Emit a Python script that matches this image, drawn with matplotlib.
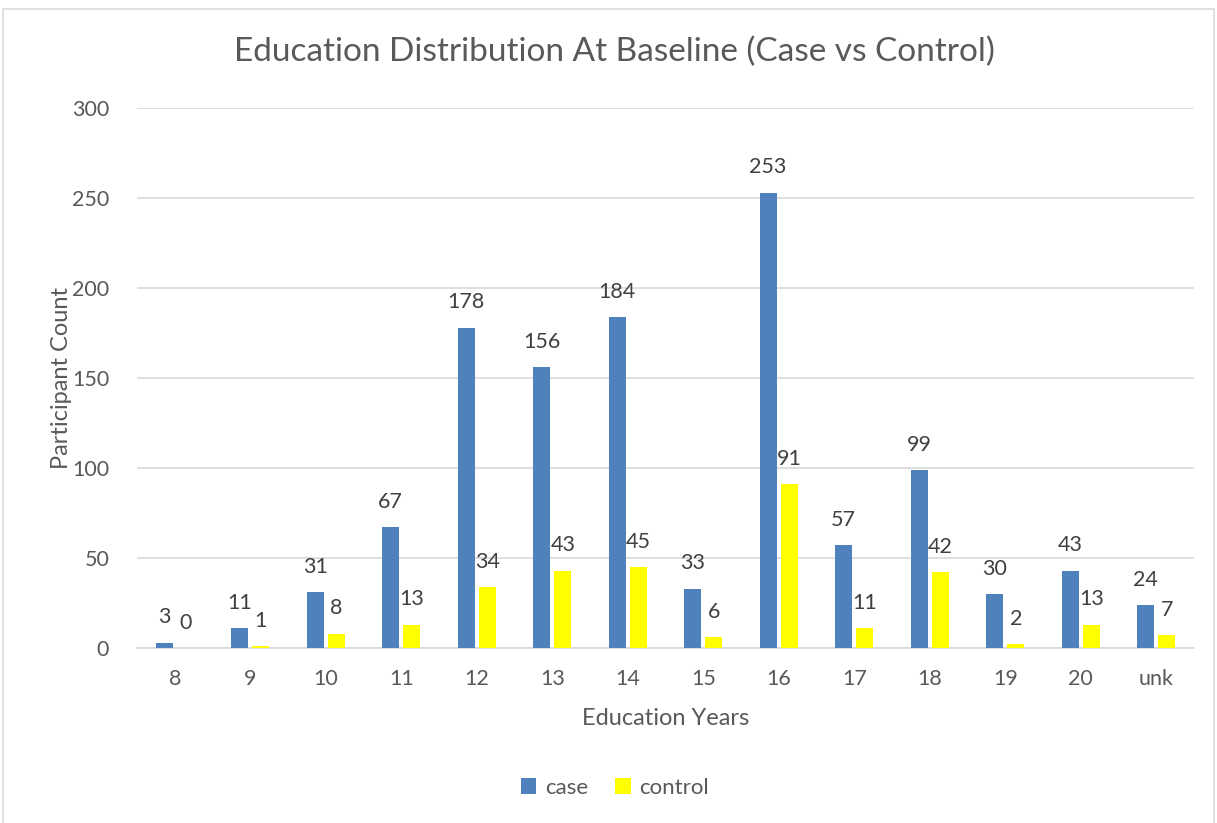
import numpy as np
import matplotlib.pyplot as plt
from matplotlib.patches import Rectangle

# Education years at baseline, participant counts per group
years = ['8', '9', '10', '11', '12', '13', '14', '15', '16', '17', '18', '19', '20', 'unk']
case = [3, 11, 31, 67, 178, 156, 184, 33, 253, 57, 99, 30, 43, 24]
control = [0, 1, 8, 13, 34, 43, 45, 6, 91, 11, 42, 2, 13, 7]

plt.rcParams['font.family'] = ['Lato', 'DejaVu Sans']
text_col = '#595959'

fig = plt.figure(figsize=(12.17, 8.23), dpi=100)
W, H = 1217, 823
ax = fig.add_axes([137 / W, 1 - 648 / H, (1194 - 137) / W, (648 - 108) / H])

# outer chart frame
fig.patches.append(Rectangle((3 / W, -0.05), (1214 - 3) / W, 1 - 9 / H + 0.05,
                             transform=fig.transFigure, fill=False,
                             edgecolor='#d9d9d9', linewidth=1.2))

x = np.arange(len(years))
w = 0.225
off = 0.14
b1 = ax.bar(x - off, case, w, color='#4f81bd', label='case', zorder=3)
b2 = ax.bar(x + off, control, w, color='#ffff00', label='control', zorder=3)

for bars in (b1, b2):
    ax.bar_label(bars, padding=11, fontsize=15.5, color='#404040')

ax.set_xlim(-0.5, len(years) - 0.5)
ax.set_ylim(0, 300)
ax.set_yticks(range(0, 301, 50))
ax.set_xticks(x)
ax.set_xticklabels(years)
ax.grid(axis='y', color='#d9d9d9', linewidth=1.2, zorder=0)
ax.tick_params(axis='both', length=0, labelsize=15.5, colors=text_col)
ax.tick_params(axis='y', pad=20)
ax.tick_params(axis='x', pad=15)
for s in ['top', 'right', 'left']:
    ax.spines[s].set_visible(False)
ax.spines['bottom'].set_color('#d9d9d9')
ax.spines['bottom'].set_linewidth(1.2)

ax.set_xlabel('Education Years', fontsize=17, color=text_col, labelpad=14)
ax.set_ylabel('Participant Count', fontsize=17, color=text_col, labelpad=0)
fig.text(614 / W, 1 - 52 / H, 'Education Distribution At Baseline (Case vs Control)',
         ha='center', va='center', fontsize=24, color=text_col)

fig.legend(handles=[b1, b2], loc='center', bbox_to_anchor=(615 / W, 1 - 788 / H),
           ncol=2, frameon=False, fontsize=16, labelcolor=text_col,
           handlelength=0.7, handleheight=0.7, handletextpad=0.4, columnspacing=1.2)

fig.savefig('out.png', dpi=100)
